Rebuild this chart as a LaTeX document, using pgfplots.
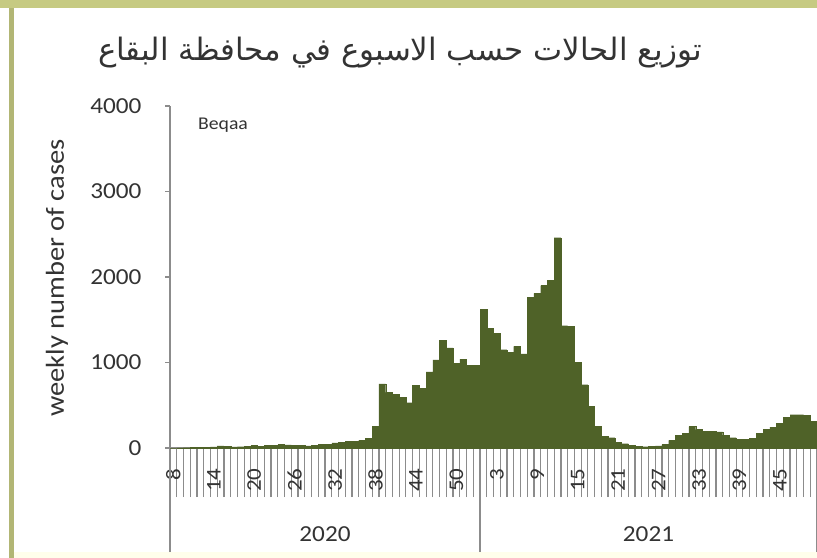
\documentclass[border=0pt]{standalone}
\usepackage{fontspec}
\setmainfont{Carlito}[FakeStretch=1.1]
\newfontfamily\arabicfont[Script=Arabic]{DejaVu Sans}
\usepackage{pgfplots}
\pgfplotsset{compat=1.18}
\TeXXeTstate=1
\definecolor{barc}{HTML}{4F6228}
\definecolor{axc}{HTML}{8C8C8C}
\definecolor{txt}{HTML}{333333}
\definecolor{framec}{HTML}{C6CA82}
\pgfplotstableread{
x y
0 0
1 2
2 4
3 6
4 8
5 10
6 12
7 25
8 18
9 12
10 15
11 20
12 28
13 22
14 30
15 35
16 40
17 38
18 32
19 28
20 25
21 30
22 45
23 40
24 60
25 65
26 75
27 80
28 90
29 110
30 250
31 750
32 650
33 625
34 595
35 530
36 730
37 700
38 890
39 1030
40 1260
41 1170
42 990
43 1040
44 965
45 970
46 1620
47 1400
48 1340
49 1150
50 1120
51 1190
52 1100
53 1760
54 1810
55 1900
56 1960
57 2460
58 1430
59 1420
60 1000
61 740
62 490
63 255
64 140
65 120
66 65
67 50
68 30
69 20
70 15
71 20
72 25
73 40
74 90
75 150
76 170
77 250
78 215
79 195
80 195
81 190
82 150
83 120
84 105
85 105
86 115
87 170
88 220
89 245
90 290
91 360
92 390
93 390
94 380
95 310
}\weekly
\begin{document}
\begin{tikzpicture}
\path[use as bounding box] (0,0) rectangle (817bp,-558bp);
\clip (0,0) rectangle (817bp,-558bp);
\fill[white] (0,0) rectangle (817bp,-558bp);
\fill[framec] (0,0) rectangle (817bp,-8bp);
\fill[framec!90!black] (9bp,-8bp) rectangle (14bp,-558bp);
\fill[yellow!8] (14bp,-552bp) rectangle (817bp,-558bp);
\node[text=txt] at (400bp,-53bp) {\arabicfont\fontsize{31}{36}\selectfont\beginR توزيع الحالات حسب الاسبوع في محافظة البقاع\endR};
\node[text=txt, rotate=90] at (57bp,-278bp) {\fontsize{26}{30}\selectfont weekly number of cases};
\node[text=txt] at (223bp,-125bp) {\fontsize{18}{22}\selectfont Beqaa};
\begin{axis}[
  at={(170bp,-448bp)}, anchor=south west,
  scale only axis, width=647bp, height=342bp,
  xmin=-0.5, xmax=95.5, ymin=0, ymax=4000,
  axis x line*=bottom, axis y line*=left,
  axis line style={-, draw=axc, line width=1.6bp},
  clip=false,
  tick align=outside,
  major tick length=5bp,
  /pgf/number format/assume math mode=true,
  /pgf/number format/1000 sep={},
  ytick={0,1000,2000,3000,4000},
  ytick style={draw=axc, line width=1.2bp},
  yticklabel style={font=\fontsize{23}{26}\selectfont, text=txt, xshift=-20bp},
  xtick={0,6,...,90},
  xticklabels={8,14,20,26,32,38,44,50,3,9,15,21,27,33,39,45},
  major x tick style={draw=none},
  minor xtick={-0.5,0.5,...,95.5},
  minor tick length=49bp,
  minor x tick style={draw=axc, line width=1.2bp},
  xticklabel style={yshift=-12bp, rotate=90, anchor=east, font=\fontsize{21}{24}\selectfont, text=txt},
  extra x ticks={-0.5,45.5,95.5},
  extra x tick labels={},
  extra x tick style={major tick length=104bp, major x tick style={draw=axc, line width=1.4bp}},
]
\addplot[ybar, bar width=1, fill=barc, draw=barc, line width=0.3bp] table[x=x, y=y] {\weekly};
\node[text=txt, font=\fontsize{23}{26}\selectfont] at (axis cs:22.5,0) [yshift=-86bp] {2020};
\node[text=txt, font=\fontsize{23}{26}\selectfont] at (axis cs:70.5,0) [yshift=-86bp] {2021};
\end{axis}
\end{tikzpicture}
\end{document}
